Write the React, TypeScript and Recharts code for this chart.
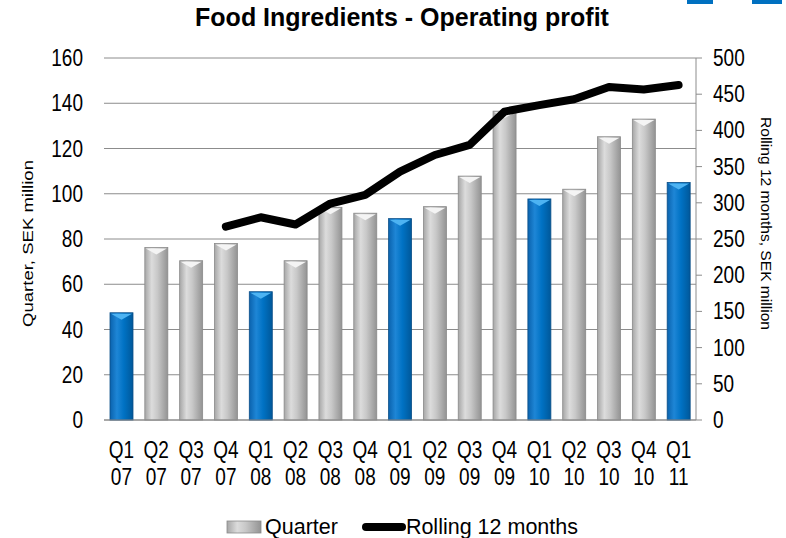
import React from 'react';
import { ComposedChart, Bar, Line, XAxis, YAxis, CartesianGrid, Legend, Cell } from 'recharts';

const quarterNames = ['Q1', 'Q2', 'Q3', 'Q4', 'Q1', 'Q2', 'Q3', 'Q4', 'Q1', 'Q2', 'Q3', 'Q4', 'Q1', 'Q2', 'Q3', 'Q4', 'Q1'];
const yearNames = ['07', '07', '07', '07', '08', '08', '08', '08', '09', '09', '09', '09', '10', '10', '10', '10', '11'];
const quarterProfit = [47.4, 76.2, 70.4, 78, 56.7, 70.4, 94, 91.4, 89, 94.3, 107.8, 136.5, 97.7, 102, 125.2, 133, 105];
const rolling12 = [null, null, null, 267, 280, 270, 299, 311, 343, 366, 380, 426, 435, 443, 460, 456.5, 462.7];
const leftTicks = [0, 20, 40, 60, 80, 100, 120, 140, 160];
const rightTicks = [0, 50, 100, 150, 200, 250, 300, 350, 400, 450, 500];

const data = quarterProfit.map((v, i) => ({
  name: `${quarterNames[i]} ${yearNames[i]}`,
  quarter: v,
  rolling: rolling12[i],
  first: quarterNames[i] === 'Q1',
}));

const FONT = 'Arial, "Liberation Sans", sans-serif';
const STRETCH = 1.22; // text in the original is a bit taller than wide

const Tall = ({ x, y, anchor, children }: any) => (
  <text transform={`translate(${x},${y}) scale(1,${STRETCH})`} textAnchor={anchor} fontSize={19} fontFamily={FONT} fill="#000">
    {children}
  </text>
);

const QuarterTick = (props: any) => {
  const { x, y, payload } = props;
  const [q, yr] = String(payload.value).split(' ');
  return (
    <g>
      <Tall x={x} y={y + 30} anchor="middle">{q}</Tall>
      <Tall x={x} y={y + 57} anchor="middle">{yr}</Tall>
    </g>
  );
};

const LeftTick = (props: any) => (
  <Tall x={props.x} y={props.y + 8} anchor="end">{props.payload.value}</Tall>
);

const RightTick = (props: any) => (
  <Tall x={props.x} y={props.y + 8} anchor="start">{props.payload.value}</Tall>
);

const CylBar = (props: any) => {
  const { x, y, width, height, payload } = props;
  if (!height || height <= 0) return null;
  const fill = payload.first ? 'url(#blueBar)' : 'url(#grayBar)';
  const cap = payload.first ? '#4db3f2' : '#f4f4f4';
  return (
    <g>
      <rect x={x} y={y} width={width} height={height} fill={fill} stroke={payload.first ? '#0b4f88' : '#8a8a8a'} strokeWidth={0.8} />
      <path d={`M${x + 1},${y + 1} L${x + width - 1},${y + 1} L${x + width / 2},${y + 7} Z`} fill={cap} />
    </g>
  );
};

const LeftLabel = () => (
  <text x={27} y={243.5} transform="rotate(-90 27 243.5)" textAnchor="middle" dominantBaseline="central"
    fontSize={15} fontFamily={FONT} fill="#000" textLength={167} lengthAdjust="spacingAndGlyphs">
    Quarter, SEK million
  </text>
);

const RightLabel = () => (
  <text x={766} y={223.5} transform="rotate(90 766 223.5)" textAnchor="middle" dominantBaseline="central"
    fontSize={15} fontFamily={FONT} fill="#000" textLength={213} lengthAdjust="spacingAndGlyphs">
    Rolling 12 months, SEK million
  </text>
);

const LegendContent = () => (
  <div style={{ display: 'flex', justifyContent: 'center', alignItems: 'center', fontFamily: FONT, fontSize: 21.5, color: '#000', paddingLeft: 18, lineHeight: '24px', marginTop: 2 }}>
    <svg width={36} height={14} style={{ marginRight: 3 }}>
      <rect x={1} y={1} width={34} height={12} fill="url(#grayBar)" stroke="#8a8a8a" strokeWidth={0.8} />
    </svg>
    <span>Quarter</span>
    <svg width={44} height={14} style={{ marginLeft: 24 }}>
      <line x1={4} y1={7} x2={40} y2={7} stroke="#000" strokeWidth={8} strokeLinecap="round" />
    </svg>
    <span>Rolling 12 months</span>
  </div>
);

export default function App() {
  return (
    <div style={{ position: 'absolute', left: 0, top: 0, width: 786, height: 538, background: '#fff' }}>
      <div style={{ position: 'absolute', left: 687, top: 0, width: 26, height: 4, background: '#0070c0' }} />
      <div style={{ position: 'absolute', left: 752, top: 0, width: 30, height: 4, background: '#0070c0' }} />
      <div style={{ position: 'absolute', left: 0, top: 3, width: 804, textAlign: 'center', fontFamily: FONT, fontSize: 25, fontWeight: 'bold', color: '#000' }}>
        Food Ingredients - Operating profit
      </div>
      <ComposedChart width={786} height={538} data={data} margin={{ top: 58, right: 0, left: 0, bottom: 1 }} barSize={23}>
        <defs>
          <linearGradient id="grayBar" x1="0" y1="0" x2="1" y2="0">
            <stop offset="0%" stopColor="#a6a6a6" />
            <stop offset="30%" stopColor="#dcdcdc" />
            <stop offset="55%" stopColor="#c8c8c8" />
            <stop offset="100%" stopColor="#939393" />
          </linearGradient>
          <linearGradient id="blueBar" x1="0" y1="0" x2="1" y2="0">
            <stop offset="0%" stopColor="#0a62ad" />
            <stop offset="30%" stopColor="#1e86d6" />
            <stop offset="60%" stopColor="#0072c4" />
            <stop offset="100%" stopColor="#00589a" />
          </linearGradient>
        </defs>
        <CartesianGrid yAxisId="left" vertical={false} stroke="#8c8c8c" strokeWidth={1} />
        <XAxis dataKey="name" height={93} tick={<QuarterTick />} tickLine={false} axisLine={{ stroke: '#8c8c8c' }} interval={0} />
        <YAxis yAxisId="left" domain={[0, 160]} ticks={leftTicks} width={104} axisLine={false} tickLine={false} tickMargin={15}
          tick={<LeftTick />} label={<LeftLabel />} />
        <YAxis yAxisId="right" orientation="right" domain={[0, 500]} ticks={rightTicks} width={90} axisLine={{ stroke: '#8c8c8c' }}
          tickLine={{ stroke: '#8c8c8c' }} tickSize={6} tickMargin={11} tick={<RightTick />} label={<RightLabel />} />
        <Legend verticalAlign="bottom" height={24} content={<LegendContent />} />
        <Bar yAxisId="left" dataKey="quarter" name="Quarter" shape={<CylBar />} isAnimationActive={false}>
          {data.map((d, i) => (
            <Cell key={i} fill={d.first ? '#0070c0' : '#c0c0c0'} />
          ))}
        </Bar>
        <Line yAxisId="right" dataKey="rolling" name="Rolling 12 months" type="linear" stroke="#000" strokeWidth={8} strokeLinecap="round" strokeLinejoin="round" dot={false} activeDot={false} connectNulls={false} isAnimationActive={false} />
      </ComposedChart>
    </div>
  );
}
